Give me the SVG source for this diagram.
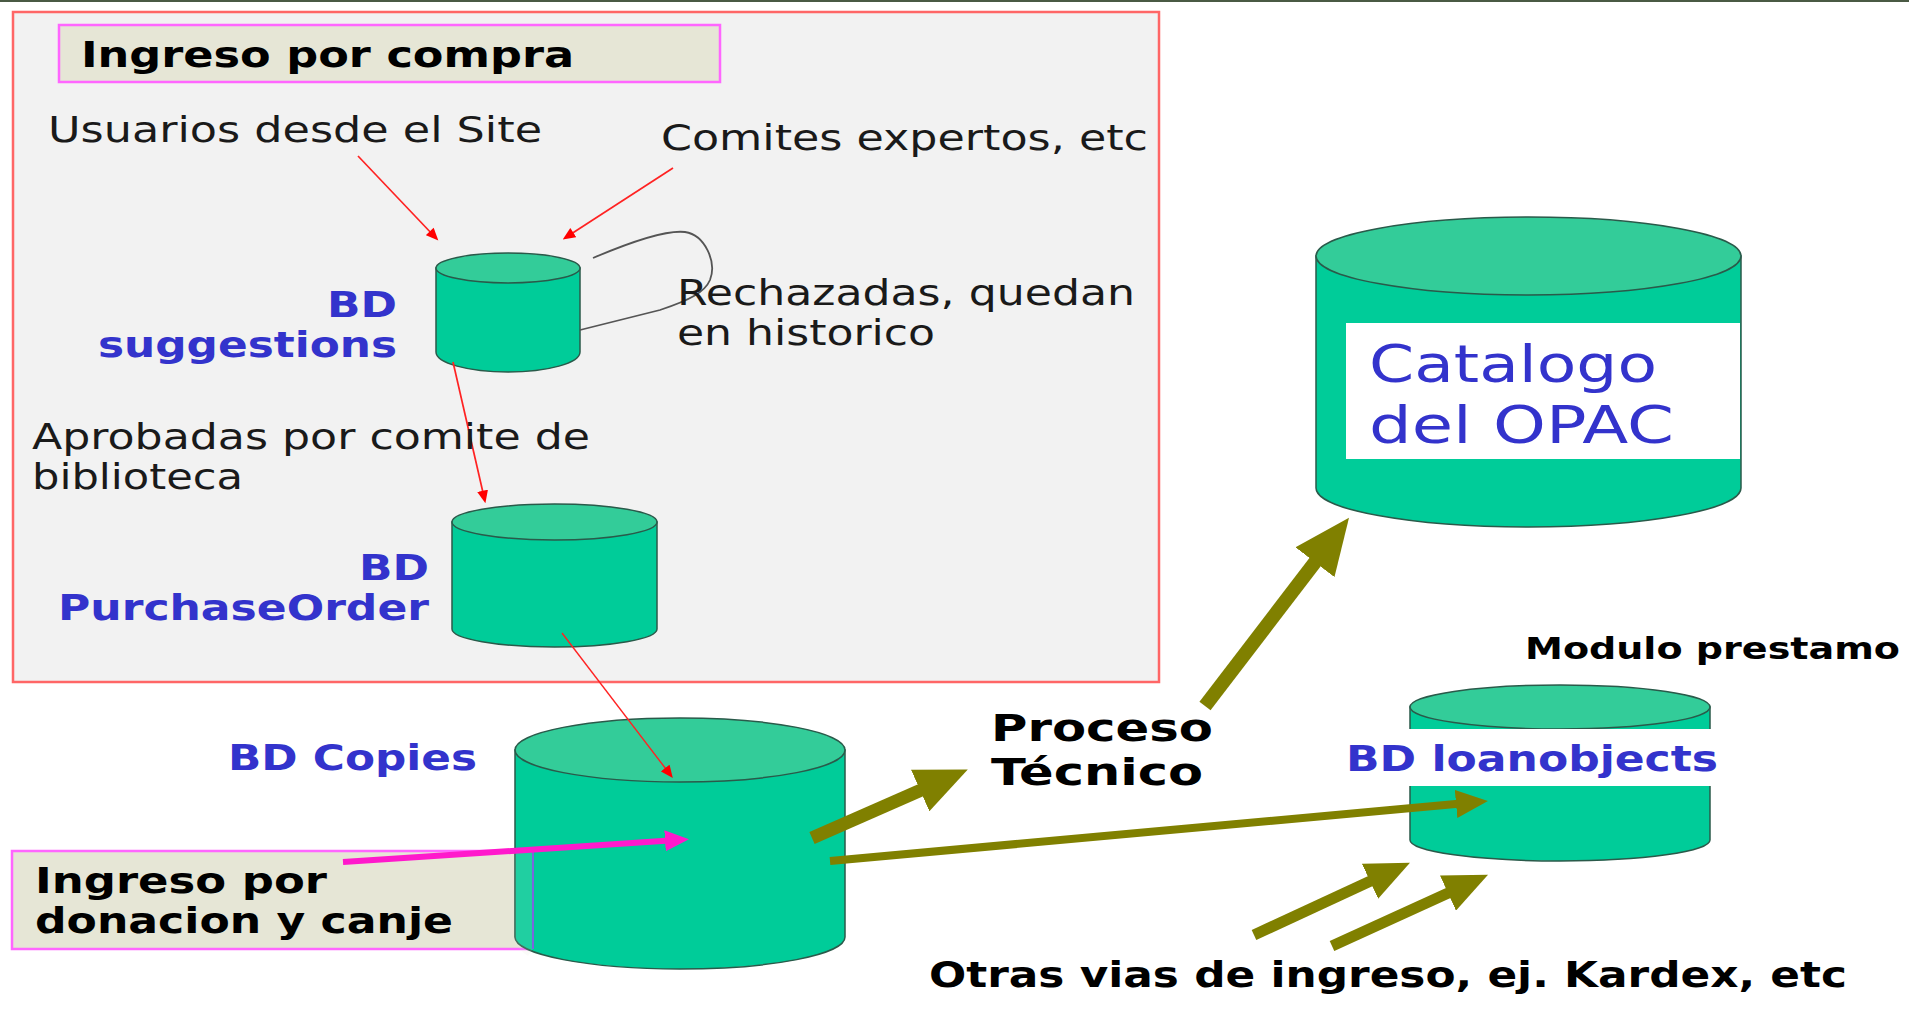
<svg xmlns="http://www.w3.org/2000/svg" width="1909" height="1011" viewBox="0 0 1909 1011">
<style>
text{font-family:"DejaVu Sans","Liberation Sans",sans-serif;fill:#1a1a1a}
.b{font-weight:bold;fill:#000}
.blue{font-weight:bold;fill:#3333cc}
.body{fill:#00cc99;stroke:#2a5a4a;stroke-width:1.5}
.top{fill:#33cc99;stroke:#2a5a4a;stroke-width:1.5}
.box{fill:#e6e6d6;stroke:#ff66ff;stroke-width:2.5}
.red{stroke:#ff2222;stroke-width:1.7;fill:none;marker-end:url(#mr)}
.olive{stroke:#808000;fill:none;marker-end:url(#mo)}
.mag{stroke:#ff19cc;stroke-width:6;fill:none;marker-end:url(#mm)}
</style>
<defs>
<marker id="mr" viewBox="0 0 40 35" refX="20" refY="17.5" markerWidth="13" markerHeight="11" markerUnits="userSpaceOnUse" orient="auto"><path d="M0 0L40 17.5L0 35z" fill="#ff0000"/></marker>
<marker id="mo" viewBox="0 0 40 35" refX="20" refY="17.5" markerWidth="4" markerHeight="3.5" orient="auto"><path d="M0 0L40 17.5L0 35z" fill="#808000"/></marker>
<marker id="mm" viewBox="0 0 40 35" refX="20" refY="17.5" markerWidth="4" markerHeight="3.5" orient="auto"><path d="M0 0L40 17.5L0 35z" fill="#ff19cc"/></marker>
</defs>
<rect width="1909" height="1011" fill="#fff"/>
<rect width="1909" height="2" fill="#4a5a44"/>
<g id="compra-panel"><rect x="13" y="12" width="1146" height="670" fill="#f2f2f2" stroke="#ff6666" stroke-width="2.5"/></g>
<g id="ingreso-compra"><rect class="box" x="59" y="25" width="661" height="57"/><text class="b" x="81" y="67" font-size="36" textLength="493" lengthAdjust="spacingAndGlyphs">Ingreso por compra</text></g>
<g id="usuarios"><text x="48" y="142" font-size="36" textLength="494" lengthAdjust="spacingAndGlyphs">Usuarios desde el Site</text></g>
<g id="comites"><text x="661" y="150" font-size="36" textLength="487" lengthAdjust="spacingAndGlyphs">Comites expertos, etc</text></g>
<g id="donacion">
<rect class="box" x="12" y="851" width="521" height="98"/>
<text class="b" x="35" y="893" font-size="36" textLength="292" lengthAdjust="spacingAndGlyphs">Ingreso por</text>
<text class="b" x="35" y="933" font-size="36" textLength="418" lengthAdjust="spacingAndGlyphs">donacion y canje</text>
</g>
<g id="bd-suggestions">
<path class="body" d="M436 268V352A72 20 0 0 0 580 352V268z"/>
<ellipse class="top" cx="508" cy="268" rx="72" ry="15"/>
<text class="blue" x="327" y="317" font-size="36" textLength="70" lengthAdjust="spacingAndGlyphs">BD</text>
<text class="blue" x="98" y="357" font-size="36" textLength="299" lengthAdjust="spacingAndGlyphs">suggestions</text>
</g>
<g id="bd-purchaseorder">
<path class="body" d="M452 522V629A102.5 18 0 0 0 657 629V522z"/>
<ellipse class="top" cx="554.5" cy="522" rx="102.5" ry="18"/>
<text class="blue" x="359" y="580" font-size="36" textLength="70" lengthAdjust="spacingAndGlyphs">BD</text>
<text class="blue" x="58" y="620" font-size="36" textLength="371" lengthAdjust="spacingAndGlyphs">PurchaseOrder</text>
</g>
<g id="bd-copies">
<path class="body" d="M515 750V937A165 32 0 0 0 845 937V750z"/>
<ellipse class="top" cx="680" cy="750" rx="165" ry="32"/>
<path d="M515 851H533V949L528 956Q518 950 515 940z" fill="#e6e6d6" opacity=".14"/>
<path d="M533 851V949" stroke="#7a66dd" stroke-width="2" fill="none"/>
<text class="blue" x="228" y="770" font-size="36" textLength="249" lengthAdjust="spacingAndGlyphs">BD Copies</text>
</g>
<g id="catalogo">
<path class="body" d="M1316 256V488A212.5 39 0 0 0 1741 488V256z"/>
<ellipse class="top" cx="1528.5" cy="256" rx="212.5" ry="39"/>
<rect x="1346" y="323" width="394" height="136" fill="#fff"/>
<text x="1369" y="382" font-size="52" style="fill:#3333cc" textLength="288" lengthAdjust="spacingAndGlyphs">Catalogo</text>
<text x="1369" y="443" font-size="52" style="fill:#3333cc" textLength="305" lengthAdjust="spacingAndGlyphs">del OPAC</text>
</g>
<g id="bd-loanobjects">
<path class="body" d="M1410 707V840A150 21 0 0 0 1710 840V707z"/>
<ellipse class="top" cx="1560" cy="707" rx="150" ry="22"/>
<rect x="1405" y="729" width="310" height="57" fill="#fff"/>
<text class="blue" x="1346" y="771" font-size="36" textLength="372" lengthAdjust="spacingAndGlyphs">BD loanobjects</text>
<text class="b" x="1525" y="659" font-size="31" textLength="375" lengthAdjust="spacingAndGlyphs">Modulo prestamo</text>
</g>
<g id="connectors">
<path class="red" d="M358 156L434 236"/>
<path class="red" d="M673 168L568 236"/>
<path class="red" d="M453 362L484 497"/>
<path class="red" d="M562 633L669 773" style="stroke-width:1.4"/>
<path d="M593 258C640 238 668 230 685 232C705 235 717 262 710 280C705 292 690 300 660 310L580 330" fill="none" stroke="#555" stroke-width="1.8"/>
<path class="olive" stroke-width="13" d="M812 838L944 780"/>
<path class="olive" stroke-width="8" d="M830 861L1472 802.5"/>
<path class="olive" stroke-width="14" d="M1205 706L1332 540"/>
<path class="olive" stroke-width="11" d="M1254 935L1390 872"/>
<path class="olive" stroke-width="11" d="M1332 946L1468 884"/>
<path class="mag" d="M343 862L677 840"/>
</g>
<g id="rechazadas"><text x="677" y="305" font-size="36" textLength="458" lengthAdjust="spacingAndGlyphs">Rechazadas, quedan</text><text x="677" y="345" font-size="36" textLength="258" lengthAdjust="spacingAndGlyphs">en historico</text></g>
<g id="aprobadas"><text x="32" y="449" font-size="36" textLength="558" lengthAdjust="spacingAndGlyphs">Aprobadas por comite de</text><text x="32" y="489" font-size="36" textLength="211" lengthAdjust="spacingAndGlyphs">biblioteca</text></g>
<g id="proceso"><text class="b" x="991" y="741" font-size="38" textLength="222" lengthAdjust="spacingAndGlyphs">Proceso</text><text class="b" x="991" y="785" font-size="38" textLength="212" lengthAdjust="spacingAndGlyphs">Técnico</text></g>
<g id="otras"><text class="b" x="929" y="987" font-size="36" textLength="918" lengthAdjust="spacingAndGlyphs">Otras vias de ingreso, ej. Kardex, etc</text></g>
</svg>
